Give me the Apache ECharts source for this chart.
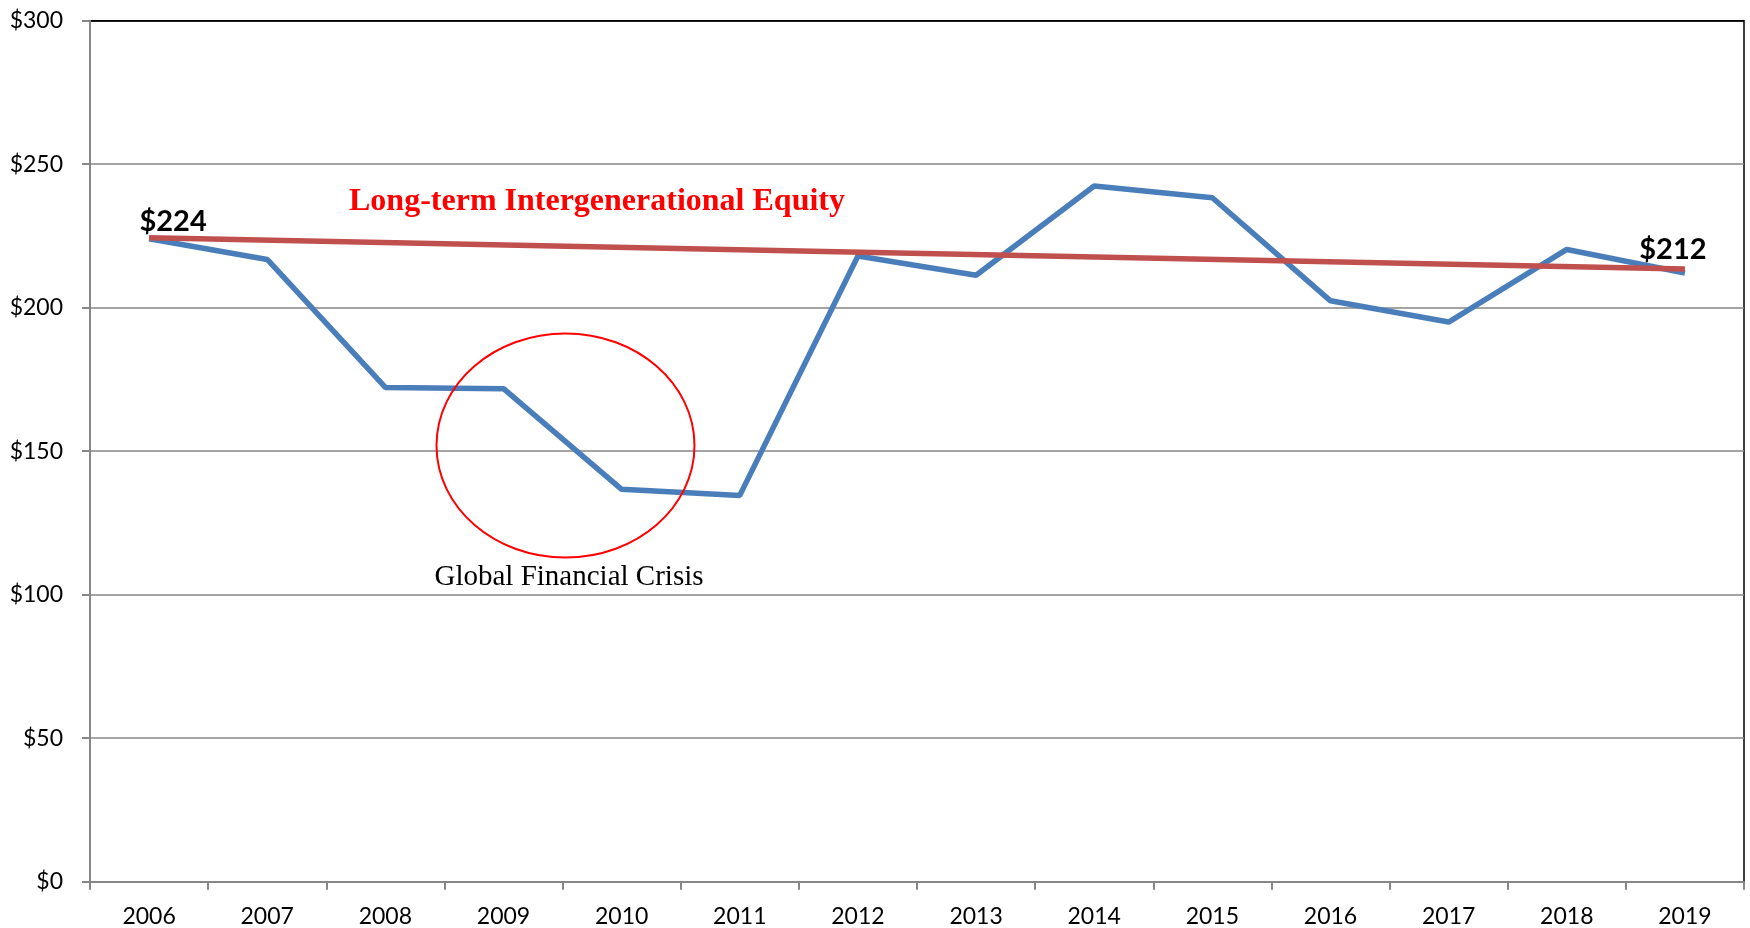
<!DOCTYPE html>
<html>
<head>
<meta charset="utf-8">
<script src="https://cdn.jsdelivr.net/npm/echarts@6/dist/echarts.min.js"></script>
<style>
  html, body { margin: 0; padding: 0; background: #fff; }
  #chart { width: 1750px; height: 928px; }
</style>
</head>
<body>
<div id="chart"></div>
<script>
// data
var years = ['2006', '2007', '2008', '2009', '2010', '2011', '2012', '2013', '2014', '2015', '2016', '2017', '2018', '2019'];
var values = [224, 216.8, 172.2, 171.8, 136.7, 134.6, 218, 211.3, 242.4, 238.3, 202.4, 195, 220.3, 212.1];
var trendStart = 224.4;
var trendEnd = 213.5;
var yTicks = [0, 50, 100, 150, 200, 250, 300];

var chart = echarts.init(document.getElementById('chart'));

var last = values.length - 1;
var lineData = values.map(function (v, i) {
    if (i === 0) {
        return { value: v, label: { show: true, distance: 3, offset: [24, 0] } };
    }
    if (i === last) {
        return { value: v, label: { show: true, distance: 9, offset: [-12, 0] } };
    }
    return v;
});

var gridColors = yTicks.map(function (t, i) {
    return i === yTicks.length - 1 ? '#000000' : '#868686';
});

option = {
    animation: false,
    backgroundColor: '#ffffff',
    grid: {
        left: 90,
        right: 6,
        top: 20.7,
        bottom: 46.3,
        show: true,
        borderColor: '#000000',
        borderWidth: 1.5,
        backgroundColor: 'transparent'
    },
    xAxis: {
        type: 'category',
        data: years,
        boundaryGap: true,
        axisLine: { lineStyle: { color: '#868686', width: 2 } },
        axisTick: { show: true, length: 8, lineStyle: { color: '#868686', width: 2 } },
        axisLabel: {
            margin: 23,
            color: '#000000',
            fontFamily: 'Lato',
            fontSize: 23
        },
        splitLine: { show: false }
    },
    yAxis: {
        type: 'value',
        min: 0,
        max: 300,
        interval: 50,
        axisLine: { show: true, lineStyle: { color: '#868686', width: 2 } },
        axisTick: { show: true, length: 8, lineStyle: { color: '#868686', width: 2 } },
        axisLabel: {
            margin: 27,
            color: '#000000',
            fontFamily: 'Lato',
            fontSize: 23,
            formatter: function (v) { return '$' + v; }
        },
        splitLine: { show: true, lineStyle: { color: gridColors, width: 1.5 } }
    },
    series: [
        {
            name: 'value',
            type: 'line',
            data: lineData,
            showSymbol: true,
            symbol: 'circle',
            symbolSize: 0,
            lineStyle: { color: '#4A7EBB', width: 5.5 },
            itemStyle: { color: '#4A7EBB' },
            label: {
                show: false,
                position: 'top',
                color: '#000000',
                fontFamily: 'Lato',
                fontWeight: 'bold',
                fontSize: 29,
                formatter: function (p) { return '$' + Math.round(p.value); }
            },
            z: 2
        },
        {
            name: 'trend',
            type: 'line',
            data: [[years[0], trendStart], [years[last], trendEnd]],
            showSymbol: false,
            symbol: 'none',
            lineStyle: { color: '#C0504D', width: 5.5 },
            z: 3
        }
    ],
    graphic: [
        {
            type: 'text',
            z: 10,
            style: {
                text: 'Long-term Intergenerational Equity',
                x: 597,
                y: 202,
                align: 'center',
                verticalAlign: 'middle',
                fill: '#FF0000',
                fontFamily: 'Liberation Serif',
                fontWeight: 'bold',
                fontSize: 32
            }
        },
        {
            type: 'ellipse',
            z: 10,
            shape: { cx: 565.5, cy: 445.5, rx: 129, ry: 112 },
            style: { fill: null, stroke: '#FF0000', lineWidth: 2 }
        },
        {
            type: 'text',
            z: 10,
            style: {
                text: 'Global Financial Crisis',
                x: 569,
                y: 577,
                align: 'center',
                verticalAlign: 'middle',
                fill: '#000000',
                fontFamily: 'Liberation Serif',
                fontSize: 29
            }
        }
    ]
};
chart.setOption(option);
</script>
</body>
</html>
